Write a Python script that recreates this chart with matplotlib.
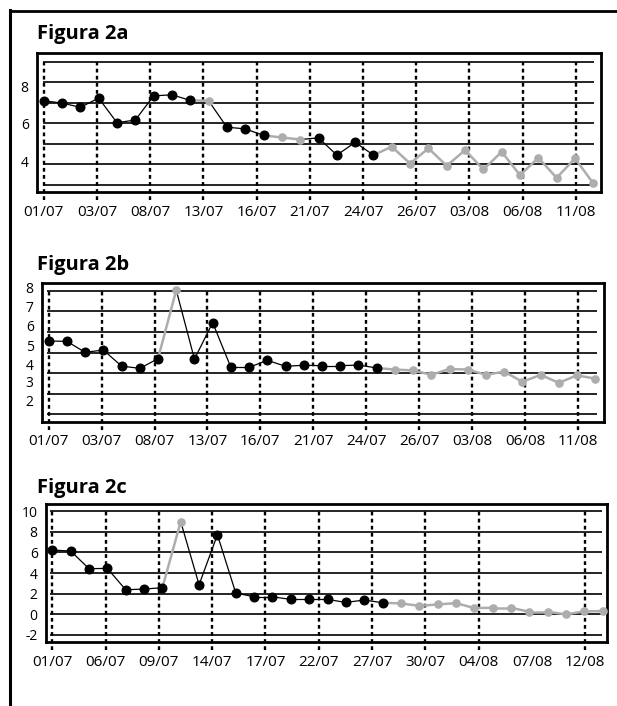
import matplotlib
matplotlib.use("Agg")
import matplotlib.pyplot as plt
from matplotlib.lines import Line2D
import numpy as np

plt.rcParams['font.family'] = ['Open Sans', 'DejaVu Sans']

# series values, one per observation (31 each)
vals_a = [7.09, 6.98, 6.77, 7.22, 6.02, 6.15, 7.33, 7.38, 7.11, 7.09, 5.80,
          5.72, 5.40, 5.30, 5.20, 5.28, 4.44, 5.06, 4.44, 4.85, 4.03, 4.77,
          3.92, 4.68, 3.74, 4.60, 3.46, 4.31, 3.33, 4.28, 3.06]
vals_b = [5.56, 5.54, 5.01, 5.12, 4.34, 4.23, 4.70, 8.03, 4.68, 6.45, 4.28,
          4.28, 4.62, 4.33, 4.38, 4.36, 4.36, 4.39, 4.25, 4.17, 4.13, 3.92,
          4.20, 4.17, 3.92, 4.07, 3.58, 3.91, 3.53, 3.89, 3.73]
vals_c = [6.23, 6.14, 4.42, 4.45, 2.37, 2.44, 2.57, 8.99, 2.86, 7.72, 2.05,
          1.69, 1.69, 1.43, 1.43, 1.43, 1.14, 1.37, 1.11, 1.04, 0.81, 0.94,
          1.07, 0.59, 0.62, 0.62, 0.23, 0.23, -0.02, 0.27, 0.30]

# b = measured (black), g = estimated (grey)
kind_a = "bbbbbbbbbgbbbggbbbbgggggggggggg"
kind_b = "bbbbbbbgbbbbbbbbbbbgggggggggggg"
kind_c = "bbbbbbbgbbbbbbbbbbbgggggggggggg"

dates_ab = ['01/07', '03/07', '08/07', '13/07', '16/07', '21/07', '24/07',
            '26/07', '03/08', '06/08', '11/08']
dates_c = ['01/07', '06/07', '09/07', '14/07', '17/07', '22/07', '27/07',
           '30/07', '04/08', '07/08', '12/08']
skip_dash_c = [9]   # no dashed line at 07/08 in fig 2c

grid_a = [9, 8, 7, 6, 5, 4, 3]
grid_b = [8, 7, 6, 5, 4, 3, 2]
grid_c = [10, 8, 6, 4, 2, 0, -2]
ylab_a = ['8', '6', '4']
ylab_b = ['8', '7', '6', '5', '4', '3', '2']
ylab_c = ['10', '8', '6', '4', '2', '0', '-2']

GREY = '#adadad'
W, H = 617, 706

fig = plt.figure(figsize=(W / 100, H / 100), dpi=100)

# outer frame (top + left only)
fig.add_artist(Line2D([10 / W, 1], [1 - 11 / H, 1 - 11 / H], color='black', lw=2))
fig.add_artist(Line2D([10.5 / W, 10.5 / W], [0, 1 - 10 / H], color='black', lw=2.2))


def panel(box, title, title_y, vals, kind, dates, grid, ylim, xlim,
          ylab, ylab_pos, grid_x, skip=()):
    l, r, t, b = box
    ax = fig.add_axes([l / W, 1 - b / H, (r - l) / W, (b - t) / H])
    ax.set_xlim(*xlim)
    ax.set_ylim(*ylim)
    x = np.arange(len(vals))

    # horizontal grid
    ax.hlines(grid, grid_x[0], grid_x[1], color='black', lw=1.2, zorder=1)

    # dashed date lines, running below the frame
    dash_x = np.linspace(0, 29.05, len(dates))
    below = ylim[0] - 0.06 * (ylim[1] - ylim[0])
    for i, dx in enumerate(dash_x):
        if i in skip:
            continue
        ax.vlines(dx, below, max(grid), color='black', lw=1.7,
                  linestyles=(0, (1.6, 1.4)), clip_on=False, zorder=1)

    # segments take the colour of the point they lead to
    for i in range(1, len(vals)):
        if kind[i] == 'g':
            ax.plot(x[i - 1:i + 1], vals[i - 1:i + 1], color=GREY, lw=1.8, zorder=2)
        else:
            ax.plot(x[i - 1:i + 1], vals[i - 1:i + 1], color='black', lw=0.9, zorder=3)

    v = np.array(vals)
    m_b = np.array([k == 'b' for k in kind])
    ax.plot(x[~m_b], v[~m_b], 'o', color=GREY, ms=5.2, zorder=4, lw=0)
    ax.plot(x[m_b], v[m_b], 'o', color='black', ms=6.2, zorder=5, lw=0)

    ax.set_xticks(dash_x)
    ax.set_xticklabels(dates, fontsize=11)
    ax.set_yticks(ylab_pos)
    ax.set_yticklabels(ylab, fontsize=10)
    ax.tick_params(axis='both', length=0)
    ax.tick_params(axis='x', pad=9)
    ax.tick_params(axis='y', pad=6)
    for s in ax.spines.values():
        s.set_linewidth(2)
    fig.text(37 / W, 1 - title_y / H, title, fontsize=14.5, fontweight='bold',
             va='baseline', ha='left')
    return ax


panel((37, 601, 53, 192), 'Figura 2a', 39.5, vals_a, kind_a, dates_ab,
      grid_a, (2.64, 9.42), (-0.366, 30.42), ylab_a, [7.80, 5.98, 4.15],
      (-0.05, 30.05))
panel((42, 604, 283.3, 421.7), 'Figura 2b', 270, vals_b, kind_b, dates_ab,
      grid_b, (1.64, 8.36), (-0.368, 30.48), ylab_b,
      [8.15, 7.22, 6.29, 5.36, 4.44, 3.58, 2.66], (-0.1, 30.1))
panel((46, 607.3, 503.7, 642), 'Figura 2c', 492.7, vals_c, kind_c, dates_c,
      grid_c, (-2.71, 10.74), (-0.343, 30.25), ylab_c,
      [10, 8, 6, 4, 2, 0, -2], (-0.12, 29.95), skip=skip_dash_c)

fig.savefig('out.png', dpi=100)
